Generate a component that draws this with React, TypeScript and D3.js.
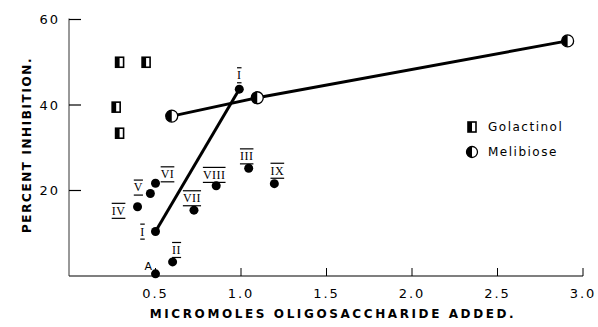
import React from "react";
import * as d3 from "d3";

// values
const galactinolX = [0.29, 0.445, 0.27, 0.29];
const galactinolY = [50, 50, 39.5, 33.4];
const melibioseX = [0.595, 1.095, 2.91];
const melibioseY = [37.4, 41.7, 55];
const lineIX = [0.5, 0.99];
const lineIY = [10.4, 43.7];
const oligoLabels = ["A", "II", "IV", "V", "VI", "VII", "VIII", "III", "IX"];
const oligoX = [0.5, 0.6, 0.395, 0.47, 0.5, 0.725, 0.855, 1.045, 1.195];
const oligoY = [0.5, 3.3, 16.2, 19.3, 21.7, 15.4, 21.1, 25.2, 21.6];
const xTicks = [0.5, 1.0, 1.5, 2.0, 2.5, 3.0];
const yTicks = [20, 40, 60];

// label nudges in px (dx, dy) from the dot
const labelOffset: Record<string, [number, number]> = {
  A: [-7, -7], II: [4, -12], IV: [-19, 4], V: [-12, -6], VI: [12, -9],
  VII: [-2, -12], VIII: [-2, -11], III: [-2, -12], IX: [3, -13],
};

const W = 598, H = 327;
const x = d3.scaleLinear().domain([0, 3]).range([70, 583]);
const y = d3.scaleLinear().domain([0, 60]).range([276, 19.5]);

const sans = "'DejaVu Sans', sans-serif";
const serif = "'Liberation Serif', serif";

const HalfSquare = ({cx, cy}: {cx: number; cy: number}) => (
  <g>
    <rect x={cx - 4} y={cy - 5} width={8} height={10} fill="#fff" stroke="#000" strokeWidth={1.6} />
    <rect x={cx - 4} y={cy - 5} width={4} height={10} fill="#000" />
  </g>
);

const HalfCircle = ({cx, cy, r = 6}: {cx: number; cy: number; r?: number}) => (
  <g>
    <circle cx={cx} cy={cy} r={r} fill="#fff" stroke="#000" strokeWidth={1.3} />
    <path d={`M${cx},${cy - r} A${r},${r} 0 0 0 ${cx},${cy + r} Z`} fill="#000" />
  </g>
);

const Roman = ({px, py, text}: {px: number; py: number; text: string}) => (
  <text x={px} y={py} textAnchor="middle" dominantBaseline="central"
    fontFamily={serif} fontSize={12} letterSpacing={0.5}
    textDecoration={text === "A" ? undefined : "overline underline"}
    style={text === "A" ? {fontFamily: sans, fontSize: 11} : undefined}>
    {text}
  </text>
);

export default function App() {
  const line = d3.line<[number, number]>().x(d => x(d[0])).y(d => y(d[1]));
  const melPts = melibioseX.map((v, i) => [v, melibioseY[i]] as [number, number]);
  const iPts = lineIX.map((v, i) => [v, lineIY[i]] as [number, number]);

  return (
    <svg width={W} height={H} style={{position: "absolute", left: 0, top: 0, background: "#fff"}}>
      {/* axes */}
      <line x1={69} x2={x(3)} y1={y(0)} y2={y(0)} stroke="#000" strokeWidth={1.2} />
      <line x1={69} x2={69} y1={y(0)} y2={y(60) - 1} stroke="#333" strokeWidth={1} />
      {xTicks.map(t => (
        <g key={t}>
          <line x1={x(t)} x2={x(t)} y1={y(0)} y2={y(0) - 8} stroke="#000" strokeWidth={1} />
          <text x={x(t)} y={298} textAnchor="middle" fontFamily={sans} fontSize={13} letterSpacing={2}>
            {t.toFixed(1)}
          </text>
        </g>
      ))}
      {yTicks.map(t => (
        <g key={t}>
          <line x1={69} x2={81} y1={y(t)} y2={y(t)} stroke="#000" strokeWidth={1.2} />
          <text x={60} y={y(t)} textAnchor="end" dominantBaseline="central" fontFamily={sans} fontSize={13} letterSpacing={2}>
            {t}
          </text>
        </g>
      ))}
      <text x={333} y={318} textAnchor="middle" fontFamily={sans} fontSize={12} fontWeight="bold" letterSpacing={2.6}>
        MICROMOLES OLIGOSACCHARIDE ADDED.
      </text>
      <text transform="translate(31,145) rotate(-90)" textAnchor="middle" fontFamily={sans} fontSize={12} fontWeight="bold" letterSpacing={1.6}>
        PERCENT INHIBITION.
      </text>

      {/* fitted lines */}
      <path d={line(melPts) ?? ""} fill="none" stroke="#000" strokeWidth={3} />
      <path d={line(iPts) ?? ""} fill="none" stroke="#000" strokeWidth={3} />
      {iPts.map((p, i) => (
        <g key={i}>
          <circle cx={x(p[0])} cy={y(p[1])} r={4.5} fill="#000" />
          <Roman px={x(p[0]) + (i === 0 ? -13 : 0)} py={y(p[1]) + (i === 0 ? 0 : -14)} text="I" />
        </g>
      ))}
      {melPts.map((p, i) => <HalfCircle key={i} cx={x(p[0])} cy={y(p[1])} />)}

      {/* oligosaccharides */}
      {oligoLabels.map((l, i) => (
        <g key={l}>
          <circle cx={x(oligoX[i])} cy={y(oligoY[i])} r={4.5} fill="#000" />
          <Roman px={x(oligoX[i]) + labelOffset[l][0]} py={y(oligoY[i]) + labelOffset[l][1]} text={l} />
        </g>
      ))}

      {/* galactinol */}
      {galactinolX.map((v, i) => <HalfSquare key={i} cx={x(v)} cy={y(galactinolY[i])} />)}

      {/* legend */}
      <HalfSquare cx={472} cy={127} />
      <text x={488} y={127} dominantBaseline="central" fontFamily={sans} fontSize={12} letterSpacing={1.5}>Golactinol</text>
      <HalfCircle cx={472} cy={152} r={5.5} />
      <text x={488} y={152} dominantBaseline="central" fontFamily={sans} fontSize={12} letterSpacing={1.5}>Melibiose</text>
    </svg>
  );
}
